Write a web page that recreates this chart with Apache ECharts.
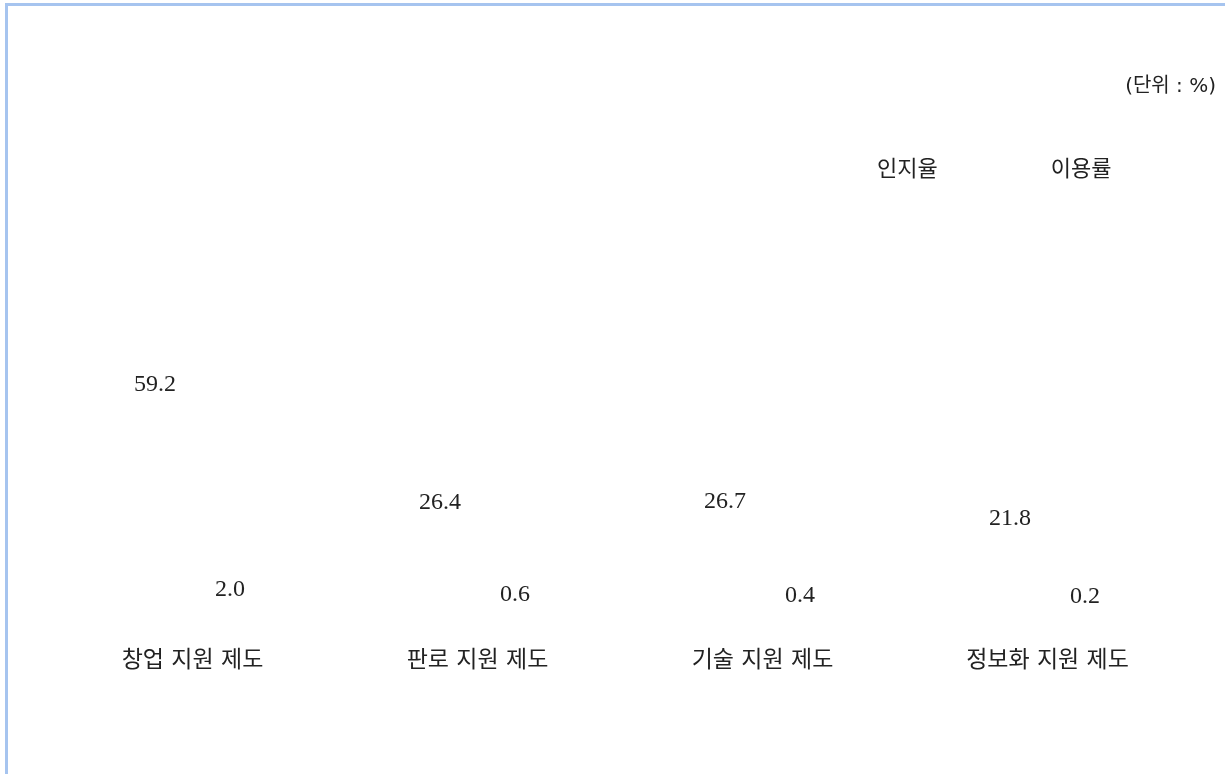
<!DOCTYPE html>
<html><head><meta charset="utf-8">
<script src="https://cdn.jsdelivr.net/npm/echarts@6/dist/echarts.min.js"></script>
<style>html,body{margin:0;padding:0;background:#fff;}#c{width:1225px;height:774px;}</style>
</head><body><div id="c"></div>
<script>
const categories = ['창업 지원 제도', '판로 지원 제도', '기술 지원 제도', '정보화 지원 제도'];
const awareness = [59.2, 26.4, 26.7, 21.8];
const usage = [2.0, 0.6, 0.4, 0.2];
const seriesNames = ['인지율', '이용률'];
const unitText = '(단위 : %)';

const numFont = '"Liberation Serif", "DejaVu Serif", serif';
const krFont = '"DejaVu Sans", "Noto Sans CJK KR", sans-serif';
const clear = 'rgba(0,0,0,0)';

const chart = echarts.init(document.getElementById('c'));
chart.setOption({
  backgroundColor: '#fff',
  animation: false,
  graphic: [
    { type: 'rect', shape: { x: 5, y: 3, width: 1220, height: 3 }, style: { fill: '#a6c4ef' } },
    { type: 'rect', shape: { x: 5, y: 3, width: 3, height: 771 }, style: { fill: '#a6c4ef' } },
    { type: 'text', right: 9, top: 77, style: { text: unitText, font: '20px ' + krFont, fill: '#222' } }
  ],
  legend: {
    data: seriesNames,
    left: 842, top: 154,
    itemWidth: 25, itemHeight: 14, itemGap: 83,
    textStyle: { fontFamily: krFont, fontSize: 22, color: '#222' }
  },
  grid: { left: 50, right: 35, top: 255, bottom: 161 },
  xAxis: {
    type: 'category', data: categories,
    axisLine: { show: false }, axisTick: { show: false },
    axisLabel: { margin: 37, fontFamily: krFont, fontSize: 23, color: '#222' }
  },
  yAxis: {
    type: 'value', min: 0, max: 100,
    show: false, splitLine: { show: false }
  },
  series: [
    {
      name: seriesNames[0], type: 'bar', data: awareness, barWidth: 50, barGap: '50%',
      itemStyle: { color: clear },
      label: { show: true, position: 'top', distance: 4, formatter: p => p.value.toFixed(1),
        fontFamily: numFont, fontSize: 24, color: '#222' }
    },
    {
      name: seriesNames[1], type: 'bar', data: usage, barWidth: 50,
      itemStyle: { color: clear },
      label: { show: true, position: 'top', distance: 4, formatter: p => p.value.toFixed(1),
        fontFamily: numFont, fontSize: 24, color: '#222' }
    }
  ]
});
</script></body></html>
